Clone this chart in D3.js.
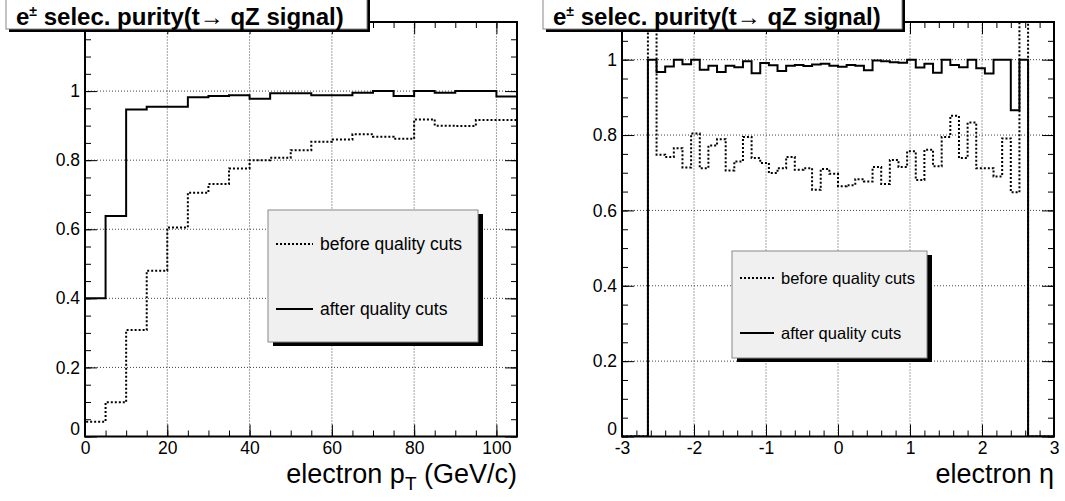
<!DOCTYPE html>
<html>
<head>
<meta charset="utf-8">
<script src="https://cdn.jsdelivr.net/npm/d3@7"></script>
<style>
  body { margin: 0; background: #fff; }
  svg { display: block; font-family: "Liberation Sans", Arial, Helvetica, sans-serif; }
</style>
</head>
<body>
<script>
// electron pT panel: 5 GeV bins
ptBinEdges = [0, 5, 10, 15, 20, 25, 30, 35, 40, 45, 50, 55, 60, 65, 70, 75, 80, 85, 90, 95, 100, 105];
ptBefore = [0.043, 0.099, 0.308, 0.480, 0.605, 0.706, 0.731, 0.776, 0.800, 0.807, 0.829,
  0.853, 0.860, 0.875, 0.868, 0.862, 0.918, 0.900, 0.899, 0.916, 0.916];
ptAfter = [0.400, 0.638, 0.947, 0.955, 0.955, 0.982, 0.986, 0.988, 0.978, 0.994, 0.994,
  0.988, 0.988, 0.995, 1.000, 0.986, 1.000, 0.995, 1.000, 1.000, 0.984];
ptXTicks = [0, 20, 40, 60, 80, 100];
ptYTicks = [0, 0.2, 0.4, 0.6, 0.8, 1];

// electron eta panel: 50 bins of 0.12 from -3 to 3
etaBinEdges = [-3, -2.88, -2.76, -2.64, -2.52, -2.4, -2.28, -2.16, -2.04, -1.92, -1.8,
  -1.68, -1.56, -1.44, -1.32, -1.2, -1.08, -0.96, -0.84, -0.72, -0.6, -0.48, -0.36, -0.24, -0.12, 0,
  0.12, 0.24, 0.36, 0.48, 0.6, 0.72, 0.84, 0.96, 1.08, 1.2, 1.32, 1.44, 1.56, 1.68, 1.8,
  1.92, 2.04, 2.16, 2.28, 2.4, 2.52, 2.64, 2.76, 2.88, 3];
// first and last filled bins of "before" are off scale (> 1.1)
etaBefore = [0, 0, 0,
  1.2, 0.748, 0.742, 0.765, 0.714, 0.804, 0.712, 0.772, 0.789, 0.706,
  0.730, 0.795, 0.739, 0.726, 0.699, 0.712, 0.742, 0.708, 0.712, 0.655,
  0.710, 0.697, 0.664, 0.667, 0.683, 0.677, 0.715, 0.670, 0.734, 0.715,
  0.757, 0.681, 0.761, 0.717, 0.795, 0.851, 0.739, 0.833, 0.712, 0.712,
  0.690, 0.791, 0.648, 1.2,
  0, 0, 0];
etaAfter = [0, 0, 0,
  1.000, 0.967, 0.982, 1.000, 0.988, 1.000, 0.973, 0.984, 0.967, 0.984,
  0.980, 0.996, 0.964, 0.991, 0.985, 0.970, 0.984, 0.986, 0.983, 0.987,
  0.989, 0.984, 0.981, 0.986, 0.984, 0.972, 0.998, 0.996, 0.993, 0.992,
  1.000, 0.979, 0.989, 0.965, 1.000, 0.986, 0.980, 1.000, 0.977, 0.963,
  1.000, 1.000, 0.866, 1.000,
  0, 0, 0];
etaXTicks = [-3, -2, -1, 0, 1, 2, 3];
etaYTicks = [0, 0.2, 0.4, 0.6, 0.8, 1];

titleText = 'selec. purity(t\u2192 qZ signal)';
legendLabels = ['before quality cuts', 'after quality cuts'];

w = 1065;
h = 501;
dotDash = '2,2';

svg = d3.select('body')
  .append('svg')
  .attr('width', w)
  .attr('height', h);

svg.append('rect').attr('width', w).attr('height', h).attr('fill', '#fff');

function stepPoints(edges, vals) {
  let pts = [[edges[0], 0]];
  vals.forEach((v, i) => {
    pts.push([edges[i], v]);
    pts.push([edges[i + 1], v]);
  });
  pts.push([edges[edges.length - 1], 0]);
  return pts;
}

function drawPanel(p) {
  let x = d3.scaleLinear().domain(p.xDomain).range([p.x0, p.x1]);
  let y = d3.scaleLinear().domain(p.yDomain).range([436.5, 22]);
  let g = svg.append('g');

  // grid
  g.selectAll('.gx')
    .data(p.xTicks)
    .enter()
    .append('line')
    .attr('x1', d => x(d)).attr('x2', d => x(d))
    .attr('y1', y.range()[0]).attr('y2', y.range()[1])
    .attr('stroke', '#444').attr('stroke-width', 1).attr('stroke-dasharray', '1,2');
  g.selectAll('.gy')
    .data(p.yTicks.filter(d => d > 0))
    .enter()
    .append('line')
    .attr('x1', p.x0).attr('x2', p.x1)
    .attr('y1', d => y(d)).attr('y2', d => y(d))
    .attr('stroke', '#444').attr('stroke-width', 1).attr('stroke-dasharray', '1,2');

  // histograms
  let clipId = 'clip' + p.id;
  svg.append('clipPath').attr('id', clipId)
    .append('rect')
    .attr('x', p.x0).attr('y', 22)
    .attr('width', p.x1 - p.x0).attr('height', 436.5 - 22);
  let line = d3.line().x(d => x(d[0])).y(d => y(d[1]));
  g.append('path')
    .attr('d', line(stepPoints(p.edges, p.before)))
    .attr('clip-path', `url(#${clipId})`)
    .attr('fill', 'none').attr('stroke', '#000').attr('stroke-width', 2)
    .attr('stroke-dasharray', dotDash);
  g.append('path')
    .attr('d', line(stepPoints(p.edges, p.after)))
    .attr('clip-path', `url(#${clipId})`)
    .attr('fill', 'none').attr('stroke', '#000').attr('stroke-width', 2);

  // axes: major with labels, minor ticks, mirrored on top/right
  let yb = 436.5, yt = 22;
  let fmt = d => String(d);
  let axes = [
    [d3.axisBottom(x).tickValues(p.xTicks).tickSize(-12).tickPadding(5).tickFormat(fmt), `translate(0,${yb})`],
    [d3.axisBottom(x).tickValues(p.xMinor).tickSize(-6).tickFormat(''), `translate(0,${yb})`],
    [d3.axisTop(x).tickValues(p.xTicks).tickSize(-12).tickFormat(''), `translate(0,${yt})`],
    [d3.axisTop(x).tickValues(p.xMinor).tickSize(-6).tickFormat(''), `translate(0,${yt})`],
    [d3.axisLeft(y).tickValues(p.yTicks).tickSize(-12).tickPadding(5).tickFormat(fmt), `translate(${p.x0},0)`],
    [d3.axisLeft(y).tickValues(p.yMinor).tickSize(-6).tickFormat(''), `translate(${p.x0},0)`],
    [d3.axisRight(y).tickValues(p.yTicks).tickSize(-12).tickFormat(''), `translate(${p.x1},0)`],
    [d3.axisRight(y).tickValues(p.yMinor).tickSize(-6).tickFormat(''), `translate(${p.x1},0)`]
  ];
  axes.forEach((a, i) => {
    let ag = g.append('g').attr('transform', a[1]).call(a[0]);
    ag.attr('font-family', null).attr('font-size', null);
    ag.select('.domain').remove();
    ag.selectAll('line').attr('stroke', '#000').attr('stroke-width', 1);
    ag.selectAll('text').attr('font-size', 17.5).attr('fill', '#000');
    // y label "0" sits a little above the corner, like ROOT does
    if (i === 4) ag.selectAll('text').filter(d => d === 0).attr('dy', '-0.1em');
  });

  // frame
  g.append('rect')
    .attr('x', p.x0).attr('y', yt)
    .attr('width', p.x1 - p.x0).attr('height', yb - yt)
    .attr('fill', 'none').attr('stroke', '#000').attr('stroke-width', 2);

  // axis title
  let at = g.append('text')
    .attr('x', p.x1).attr('y', 483)
    .attr('text-anchor', 'end')
    .attr('font-size', 27);
  p.xTitle(at);

  // legend
  let L = p.legend;
  g.append('rect')
    .attr('x', L.x + 5).attr('y', L.y + 4)
    .attr('width', L.w).attr('height', L.h)
    .attr('fill', '#000');
  g.append('rect')
    .attr('x', L.x).attr('y', L.y)
    .attr('width', L.w).attr('height', L.h)
    .attr('fill', '#f0f0f0').attr('stroke', '#888').attr('stroke-width', 1);
  legendLabels.forEach((lab, i) => {
    let ly = L.rows[i];
    g.append('line')
      .attr('x1', L.x + 8).attr('x2', L.x + 8 + L.sample)
      .attr('y1', ly).attr('y2', ly)
      .attr('stroke', '#000').attr('stroke-width', 2)
      .attr('stroke-dasharray', i === 0 ? dotDash : null);
    g.append('text')
      .attr('x', L.x + 15 + L.sample).attr('y', ly + 6)
      .attr('font-size', L.font)
      .text(lab);
  });

  // title box
  let T = p.title;
  g.append('rect')
    .attr('x', T.x + 3).attr('y', 0)
    .attr('width', T.w).attr('height', 32)
    .attr('fill', '#000');
  g.append('rect')
    .attr('x', T.x).attr('y', -2)
    .attr('width', T.w).attr('height', 31)
    .attr('fill', '#fff').attr('stroke', '#888').attr('stroke-width', 1);
  let tt = g.append('text')
    .attr('x', T.x + 10).attr('y', 25)
    .attr('font-size', 24).attr('font-weight', 'bold');
  tt.append('tspan').text('e');
  tt.append('tspan').attr('font-size', 14).attr('dy', -9).text('\u00b1');
  tt.append('tspan').attr('dy', 9).text(' ' + titleText);
}

drawPanel({
  id: 'pt',
  xDomain: [0, 105], yDomain: [0, 1.2],
  x0: 85, x1: 517,
  xTicks: ptXTicks, yTicks: ptYTicks,
  xMinor: d3.range(0, 106, 5), yMinor: d3.range(0, 1.21, 0.05),
  edges: ptBinEdges, before: ptBefore, after: ptAfter,
  xTitle: t => {
    t.append('tspan').text('electron p');
    t.append('tspan').attr('font-size', 19).attr('dy', 7).text('T');
    t.append('tspan').attr('dy', -7).text(' (GeV/c)');
  },
  legend: { x: 268, y: 210, w: 210, h: 132, sample: 37, rows: [244, 309], font: 17.5 },
  title: { x: 6, w: 361 }
});

drawPanel({
  id: 'eta',
  xDomain: [-3, 3], yDomain: [0, 1.1],
  x0: 622, x1: 1054,
  xTicks: etaXTicks, yTicks: etaYTicks,
  xMinor: d3.range(-3, 3.01, 0.2), yMinor: d3.range(0, 1.11, 0.05),
  edges: etaBinEdges, before: etaBefore, after: etaAfter,
  xTitle: t => {
    t.append('tspan').text('electron \u03b7');
  },
  legend: { x: 732, y: 251, w: 195, h: 107, sample: 34, rows: [278, 333], font: 16.5 },
  title: { x: 543, w: 359 }
});
</script>
</body>
</html>
